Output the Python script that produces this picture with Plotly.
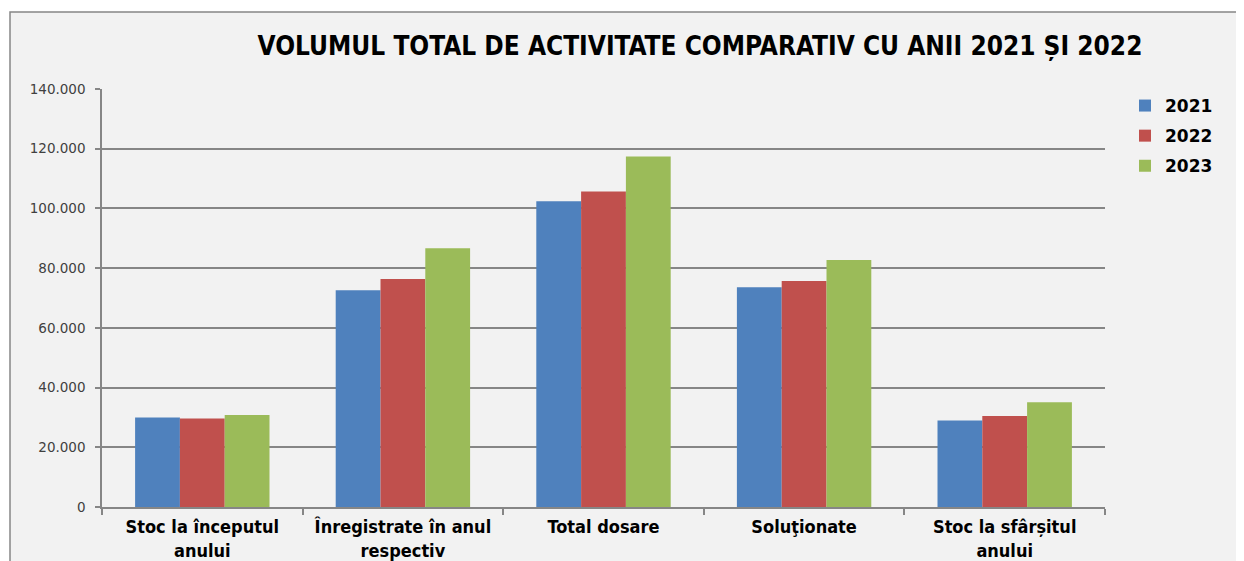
import plotly.graph_objects as go

categories = ["Stoc la începutul<br>anului", "Înregistrate în anul<br>respectiv",
              "Total dosare", "Soluţionate", "Stoc la sfârșitul<br>anului"]
years = ["2021", "2022", "2023"]
v2021 = [30000, 72600, 102400, 73600, 29000]
v2022 = [29600, 76400, 105700, 75700, 30500]
v2023 = [30800, 86700, 117400, 82700, 35100]
colors = ["#4f81bd", "#c0504d", "#9bbb59"]
tick_vals = [0, 20000, 40000, 60000, 80000, 100000, 120000, 140000]
title = "VOLUMUL TOTAL DE ACTIVITATE COMPARATIV CU ANII 2021 ȘI 2022"

fig = go.Figure()
for name, vals, col in zip(years, [v2021, v2022, v2023], colors):
    fig.add_trace(go.Bar(x=categories, y=vals, name=name, marker_color=col,
                         marker_line_width=0, legendgroup=name))

# page has an 8px body margin: work in figure coordinates = page - 8
OFF = 8
W, H = 1244 - OFF, 561 - OFF
L, T = 102 - OFF, 89 - OFF
R = W - (1105 - OFF)
B = H - (507 - OFF)
pw, ph = W - L - R, H - T - B

def px_x(p):
    return (p - OFF - L) / pw

def px_y(p):
    return (H - B - (p - OFF)) / ph

fig.add_shape(type="rect", xref="paper", yref="paper",
              x0=px_x(10), x1=px_x(1270), y0=px_y(590), y1=px_y(12),
              fillcolor="#f2f2f2", line=dict(color="#868686", width=1.5), layer="below")

fig.update_layout(
    width=W, height=H,
    margin=dict(l=L, r=R, t=T, b=B, autoexpand=False),
    paper_bgcolor="white", plot_bgcolor="rgba(0,0,0,0)",
    separators=",.",
    barmode="group", bargap=0.33, bargroupgap=0,
    title=dict(text="<b>" + title + "</b>", x=(700 - OFF) / W, xanchor="center",
               y=1 - (46 - OFF) / H, yanchor="middle",
               font=dict(family="DejaVu Sans Condensed, sans-serif", size=26, color="#000000")),
    legend=dict(x=px_x(1125), y=px_y(88), xanchor="left", yanchor="top",
                font=dict(family="DejaVu Sans", size=17, color="#000000", weight="bold"),
                tracegroupgap=5, traceorder="grouped", bgcolor="rgba(0,0,0,0)",
                itemwidth=30),
    showlegend=True,
)
fig.update_yaxes(range=[0, 140000], tickvals=tick_vals, tickformat=",d",
                 showgrid=True, gridcolor="#868686", gridwidth=1.5,
                 showline=True, linecolor="#868686", linewidth=1.5,
                 ticks="outside", ticklen=5, tickcolor="#868686", tickwidth=1.5,
                 ticklabelstandoff=7, automargin=False,
                 tickfont=dict(family="DejaVu Sans", size=13.5, color="#404040"),
                 zeroline=False)
fig.update_xaxes(showline=True, linecolor="#868686", linewidth=1.5,
                 ticks="outside", ticklen=6, tickcolor="#868686", tickwidth=1.5,
                 tickson="boundaries", automargin=False, ticklabelstandoff=3,
                 tickfont=dict(family="DejaVu Sans Condensed, sans-serif", size=18,
                               color="#000000", weight="bold"))

fig.write_html("out.html")
